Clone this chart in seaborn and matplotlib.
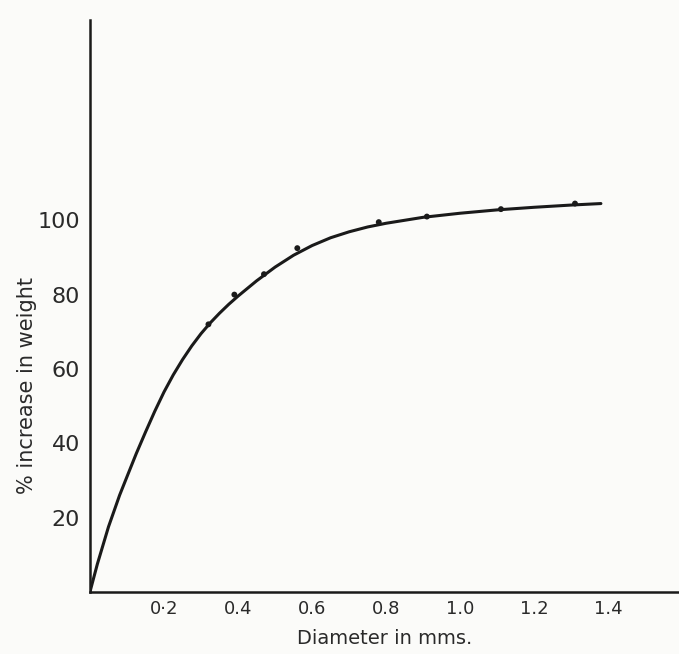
import matplotlib
matplotlib.use("Agg")
import matplotlib.pyplot as plt
import seaborn as sns
import pandas as pd

# Smooth curve
curve_x = [0, 0.02, 0.05, 0.08, 0.1, 0.125, 0.15, 0.175, 0.2, 0.225, 0.25, 0.275, 0.3,
           0.325, 0.35, 0.375, 0.4, 0.45, 0.5, 0.55, 0.6, 0.65,
           0.7, 0.75, 0.8, 0.9, 1.0, 1.1, 1.2, 1.3, 1.38]
curve_y = [0, 7.5, 17.5, 26, 31, 37.2, 43, 48.6, 53.8, 58.4, 62.5, 66.2, 69.5,
           72.4, 75.0, 77.4, 79.6, 83.7, 87.4, 90.6, 93.2, 95.3,
           96.9, 98.2, 99.2, 100.8, 101.9, 102.8, 103.5, 104.1, 104.5]

# Observed points
pts_x = [0.32, 0.39, 0.47, 0.56, 0.78, 0.91, 1.11, 1.31]
pts_y = [72, 80, 85.5, 92.5, 99.5, 101, 103, 104.5]

xtick_vals = [0.2, 0.4, 0.6, 0.8, 1.0, 1.2, 1.4]
xtick_labels = ["0·2", "0.4", "0.6", "0.8", "1.0", "1.2", "1.4"]
ytick_vals = [20, 40, 60, 80, 100]

sns.set_style("white")
plt.rcParams['font.family'] = ['DejaVu Sans']

fig = plt.figure(figsize=(6.79, 6.54), dpi=100)
fig.patch.set_facecolor("#fbfbf9")
ax = fig.add_axes([0.1325, 0.095, 0.867, 0.875])
ax.set_facecolor("#fbfbf9")

df_c = pd.DataFrame({"x": curve_x, "y": curve_y})
df_p = pd.DataFrame({"x": pts_x, "y": pts_y})
sns.lineplot(data=df_c, x="x", y="y", ax=ax, color="#1a1a1a", linewidth=2.2)
sns.scatterplot(data=df_p, x="x", y="y", ax=ax, color="#1a1a1a", s=18, edgecolor="none", zorder=3)

ax.set_xlim(0, 1.59)
ax.set_ylim(0, 154)
for s in ["top", "right"]:
    ax.spines[s].set_visible(False)
for s in ["left", "bottom"]:
    ax.spines[s].set_linewidth(1.8)
    ax.spines[s].set_color("#1a1a1a")

ax.set_xticks(xtick_vals)
ax.set_xticklabels(xtick_labels, fontsize=13, color="#2a2a2a")
ax.set_xticks([0.1, 0.3, 0.5, 0.7, 0.9, 1.1, 1.3, 1.5], minor=True)
ax.set_yticks(ytick_vals)
ax.set_yticklabels([str(v) for v in ytick_vals], fontsize=16, color="#2a2a2a")
ax.set_yticks([10, 30, 50, 70, 90], minor=True)
ax.tick_params(axis="x", which="both", direction="in", length=6, width=1.3, pad=6, color="#1a1a1a")
ax.tick_params(axis="y", which="both", direction="out", length=5, width=1.3, pad=2, color="#1a1a1a")

ax.set_xlabel("Diameter in mms.", fontsize=14, color="#2a2a2a", labelpad=8)
ax.set_ylabel("% increase in weight", fontsize=15, color="#2a2a2a")
ax.yaxis.set_label_coords(-0.09, 0.36)

fig.savefig("out.png", dpi=100, facecolor=fig.get_facecolor())
